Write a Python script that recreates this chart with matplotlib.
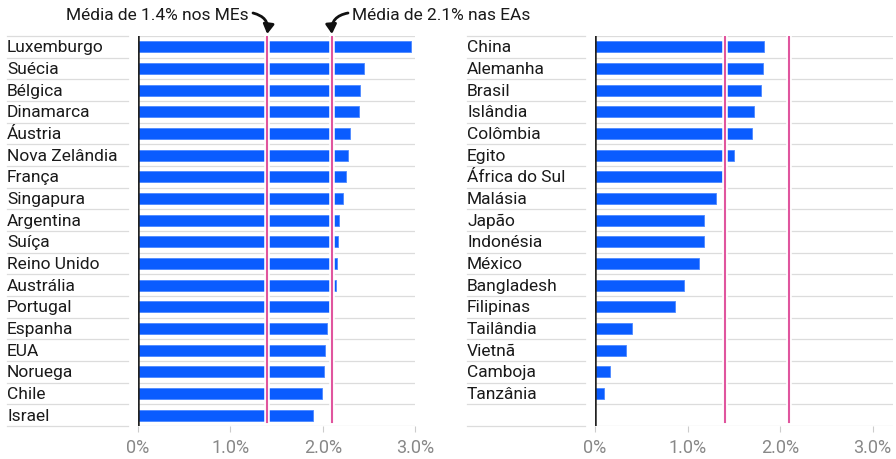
import numpy as np
import matplotlib.pyplot as plt

plt.rcParams['font.family'] = ['Roboto', 'DejaVu Sans']

# left panel (MEs)
me_countries = ['Luxemburgo', 'Suécia', 'Bélgica', 'Dinamarca', 'Áustria', 'Nova Zelândia',
                'França', 'Singapura', 'Argentina', 'Suíça', 'Reino Unido', 'Austrália',
                'Portugal', 'Espanha', 'EUA', 'Noruega', 'Chile', 'Israel']
me_values = [2.95, 2.45, 2.40, 2.39, 2.30, 2.27, 2.25, 2.22, 2.18, 2.16, 2.15, 2.14,
             2.07, 2.05, 2.02, 2.01, 1.99, 1.89]

# right panel (EAs)
ea_countries = ['China', 'Alemanha', 'Brasil', 'Islândia', 'Colômbia', 'Egito',
                'África do Sul', 'Malásia', 'Japão', 'Indonésia', 'México', 'Bangladesh',
                'Filipinas', 'Tailândia', 'Vietnã', 'Camboja', 'Tanzânia']
ea_values = [1.83, 1.82, 1.79, 1.72, 1.70, 1.50, 1.37, 1.31, 1.18, 1.18, 1.12, 0.965,
             0.86, 0.40, 0.33, 0.165, 0.10]

avg_me = 1.4
avg_ea = 2.1
ticks = [0, 1, 2, 3]
tick_labels = ['0%', '1.0%', '2.0%', '3.0%']

BLUE = '#0a5cff'
PINK = '#e0559e'
GRID = '#dcdcdc'
W, H = 896, 460
n_rows = 18

fig = plt.figure(figsize=(W / 100, H / 100), dpi=100)


def make_panel(x0, x_end, xmax, names, values, label_x):
    ax = fig.add_axes([x0 / W, 1 - 427 / H, (x_end - x0) / W, 390 / H])
    y = np.arange(len(names))
    ax.barh(y, values, height=0.5, color=BLUE, edgecolor='#4d88ff', linewidth=0.6, zorder=2)
    ax.set_ylim(n_rows - 0.5, -0.5)
    ax.set_xlim(0, xmax)

    # row separators in the bar area and under the labels
    label_left = (label_x - x0) / (x_end - x0)
    label_right = -10 / (x_end - x0)
    for b in np.arange(-0.5, n_rows, 1.0):
        ax.axhline(b, color=GRID, lw=0.9, zorder=1)
        ax.plot([label_left, label_right], [b, b], color=GRID, lw=0.9,
                transform=ax.get_yaxis_transform(), clip_on=False)

    # country names
    for i, name in enumerate(names):
        ax.text(label_left, i, name, transform=ax.get_yaxis_transform(),
                fontsize=12.5, color='#1a1a1a', va='center', ha='left')

    # mean lines with white halo
    for v in (avg_me, avg_ea):
        ax.axvline(v, ymin=0.01, ymax=1, color='white', lw=4.0, zorder=3)
        ax.axvline(v, ymin=0.01, ymax=1, color=PINK, lw=1.5, zorder=4)
    ax.axvline(0, color='#222222', lw=1.8, zorder=5)

    ax.set_xticks(ticks)
    ax.set_xticklabels(tick_labels)
    ax.set_yticks([])
    ax.tick_params(axis='x', length=4, width=0.8, color='#cccccc', labelcolor='#888888',
                   labelsize=13, pad=5)
    for s in ax.spines.values():
        s.set_visible(False)
    return ax


ax1 = make_panel(137.7, 415.2, 3.0, me_countries, me_values, 7)
ax2 = make_panel(595.0, 893.0, 298 / 92.5, ea_countries, ea_values, 467)

# annotations
fig.text(249 / W, 1 - 16 / H, 'Média de 1.4% nos MEs', fontsize=12.5, color='#1a1a1a',
         ha='right', va='center')
fig.text(352 / W, 1 - 16 / H, 'Média de 2.1% nas EAs', fontsize=12.5, color='#1a1a1a',
         ha='left', va='center')
arrow_style = '-|>,head_length=0.55,head_width=0.32'
ax1.annotate('', xy=(avg_me, 1.005), xycoords=ax1.get_xaxis_transform(),
             xytext=(253, H - 14), textcoords='figure pixels',
             arrowprops=dict(arrowstyle=arrow_style, color='#111111', lw=2.0,
                             connectionstyle='arc3,rad=-0.45', shrinkA=0, shrinkB=0))
ax1.annotate('', xy=(avg_ea, 1.005), xycoords=ax1.get_xaxis_transform(),
             xytext=(348, H - 14), textcoords='figure pixels',
             arrowprops=dict(arrowstyle=arrow_style, color='#111111', lw=2.0,
                             connectionstyle='arc3,rad=0.45', shrinkA=0, shrinkB=0))

fig.savefig('out.png', dpi=100)
